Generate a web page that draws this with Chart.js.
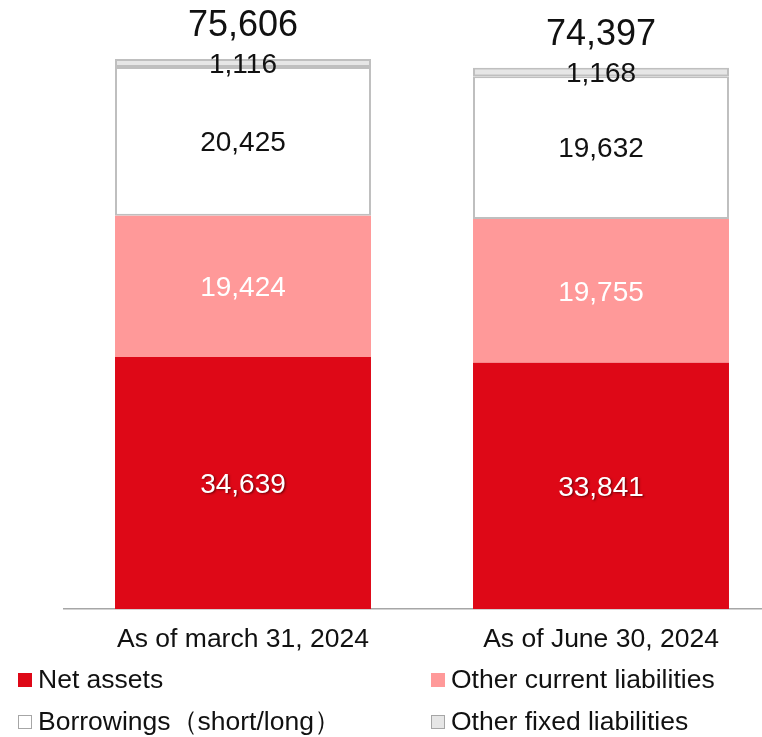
<!DOCTYPE html>
<html>
<head>
<meta charset="utf-8">
<script src="https://cdn.jsdelivr.net/npm/chart.js@4/dist/chart.umd.min.js"></script>
<style>
html,body{margin:0;padding:0;background:#fff;overflow:hidden;width:762px;height:737px;}
#wrap{width:780px;height:737px;}
</style>
</head>
<body>
<div id="wrap"><canvas id="c" width="780" height="737"></canvas></div>
<script>
const categories = ["As of march 31, 2024", "As of June 30, 2024"];
const seriesNames = ["Net assets", "Other current liabilities", "Borrowings\uFF08short/long\uFF09", "Other fixed liabilities"];
const netAssets = [34639, 33841];
const otherCurrent = [19424, 19755];
const borrowings = [20425, 19632];
const otherFixed = [1116, 1168];
const totals = [75606, 74397];

const FONT = '"Liberation Sans", Arial, sans-serif';
const fmt = v => v.toLocaleString('en-US');

const styles = [
  {bg:'#DE0817', border:'#DE0817', bw:0, text:'#ffffff', shadow:true},
  {bg:'#FF9999', border:'#FF9999', bw:0, text:'#ffffff', shadow:false},
  {bg:'#FFFFFF', border:'#BFBFBF', bw:2, text:'#111111', shadow:false},
  {bg:'#E6E6E6', border:'#BFBFBF', bw:2, text:'#111111', shadow:false}
];
const seriesData = [netAssets, otherCurrent, borrowings, otherFixed];

const labelPlugin = {
  id:'labels',
  afterDatasetsDraw(chart){
    const ctx = chart.ctx;
    ctx.save();
    ctx.textAlign='center';
    ctx.textBaseline='middle';
    chart.data.datasets.forEach((ds,di)=>{
      const meta = chart.getDatasetMeta(di);
      meta.data.forEach((el,i)=>{
        const y = (el.y + el.base)/2 + 2;
        ctx.font = '28px ' + FONT;
        ctx.fillStyle = styles[di].text;
        if (styles[di].shadow){
          ctx.shadowColor='rgba(60,0,0,0.6)';
          ctx.shadowOffsetX=1.5; ctx.shadowOffsetY=1.5; ctx.shadowBlur=2;
        } else {
          ctx.shadowColor='transparent'; ctx.shadowOffsetX=0; ctx.shadowOffsetY=0; ctx.shadowBlur=0;
        }
        ctx.fillText(fmt(ds.data[i]), el.x, y);
      });
    });
    ctx.shadowColor='transparent'; ctx.shadowOffsetX=0; ctx.shadowOffsetY=0; ctx.shadowBlur=0;
    // totals
    const yScale = chart.scales.y, xScale = chart.scales.x;
    ctx.font = '36px ' + FONT;
    ctx.fillStyle = '#111111';
    totals.forEach((t,i)=>{
      ctx.fillText(fmt(t), xScale.getPixelForValue(i), yScale.getPixelForValue(t) - 33);
    });
    // category labels
    ctx.font = '26.5px ' + FONT;
    chart.data.labels.forEach((l,i)=>{
      ctx.fillText(l, xScale.getPixelForValue(i), chart.chartArea.bottom + 31);
    });
    // legend
    const pos = [[18,680],[431,680],[18,722],[431,722]];
    ctx.textAlign='left';
    chart.data.datasets.forEach((ds,di)=>{
      const [lx,ly] = pos[di];
      ctx.fillStyle = styles[di].bg;
      ctx.fillRect(lx, ly-7, 14, 14);
      if (styles[di].bw){
        ctx.strokeStyle = '#A6A6A6';
        ctx.lineWidth = 1;
        ctx.strokeRect(lx+0.5, ly-6.5, 13, 13);
      }
      ctx.fillStyle = '#111111';
      ctx.font = '26.5px ' + FONT;
      ctx.fillText(ds.label, lx+20, ly+1);
    });
    ctx.restore();
  }
};

new Chart(document.getElementById('c'), {
  type:'bar',
  data:{
    labels: categories,
    datasets: seriesData.map((d,i)=>({
      label: seriesNames[i],
      data: d,
      backgroundColor: styles[i].bg,
      borderColor: styles[i].border,
      borderWidth: styles[i].bw,
      borderSkipped: false,
      barPercentage: 0.715,
      categoryPercentage: 1.0
    }))
  },
  options:{
    responsive:false,
    animation:false,
    events:[],
    layout:{padding:{left:64,right:0,top:27,bottom:128}},
    plugins:{legend:{display:false}, tooltip:{enabled:false}},
    scales:{
      x:{stacked:true, offset:true,
         grid:{display:false, drawTicks:false},
         border:{display:true, color:'#A6A6A6', width:1.5},
         ticks:{display:false}},
      y:{stacked:true, display:false, min:0, max:80000}
    }
  },
  plugins:[labelPlugin]
});
</script>
</body>
</html>
